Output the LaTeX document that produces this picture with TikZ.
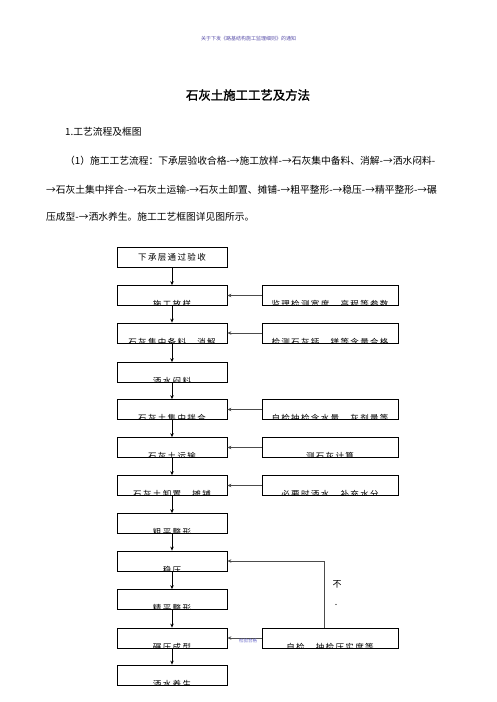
\documentclass[tikz,border=0pt]{standalone}
\usepackage{fontspec}
\setmainfont{Noto Sans CJK SC}
\newfontfamily\titlefont[FakeBold=1.5]{Noto Sans CJK SC}
\newfontfamily\boxfont[LetterSpace=16]{Noto Sans CJK SC}
\usetikzlibrary{arrows.meta}
\definecolor{hdr}{RGB}{90,80,170}
\definecolor{lbl}{RGB}{100,100,200}
\begin{document}
\begin{tikzpicture}[x=1pt,y=-1pt,
 lbox/.style={draw, line width=0.8pt, minimum width=110pt, minimum height=20pt, inner sep=0pt},
 rbox/.style={draw, line width=0.8pt, minimum width=136pt, minimum height=20pt, inner sep=0pt},
 lowtext/.style={path picture={\node[inner sep=0pt, font=\boxfont\fontsize{8.5}{9}\selectfont] at ([yshift=0.8pt]path picture bounding box.south) {#1};}},
 flow/.style={-{Stealth[length=4pt,width=3.5pt]}, line width=0.8pt},
 feed/.style={-{Stealth[length=4pt,width=3.5pt]}, line width=1pt, draw=black!70},
 para/.style={anchor=west, inner sep=0pt, font=\fontsize{9.75}{12}\selectfont}
]
\useasboundingbox (0,0) rectangle (496,702);
\fill[white] (0,0) rectangle (496,702);

\node[font=\fontsize{5}{6}\selectfont, text=hdr] (hd) at (248.5,39) {关于下发《路基结构施工监理细则》的通知};
\node[font=\titlefont\fontsize{12.4}{14}\selectfont] (title) at (248,95) {石灰土施工工艺及方法};
\node[para] (sec) at (65,132) {1.工艺流程及框图};
\node[para] (l1) at (65,161) {（1）施工工艺流程：下承层验收合格-→施工放样-→石灰集中备料、消解-→洒水闷料-};
\node[para] (l2) at (46,190) {→石灰土集中拌合-→石灰土运输-→石灰土卸置、摊铺-→粗平整形-→稳压-→精平整形-→碾};
\node[para] (l3) at (46,217) {压成型-→洒水养生。施工工艺框图详见图所示。};

% left column
\node[lbox, font=\boxfont\fontsize{8.5}{9}\selectfont] (b1) at (172,257.5) {下承层通过验收};
\node[lbox, lowtext={施工放样}] (b2) at (172,295.5) {};
\node[lbox, lowtext={石灰集中备料、消解}] (b3) at (172,333) {};
\node[lbox, lowtext={洒水闷料}] (b4) at (172,372.5) {};
\node[lbox, lowtext={石灰土集中拌合}] (b5) at (172,409.5) {};
\node[lbox, lowtext={石灰土运输}] (b6) at (172,447.5) {};
\node[lbox, lowtext={石灰土卸置、摊铺}] (b7) at (172,485.5) {};
\node[lbox, lowtext={粗平整形}] (b8) at (172,523.5) {};
\node[lbox, lowtext={稳压}] (b9) at (172,561) {};
\node[lbox, lowtext={精平整形}] (b10) at (172,599.5) {};
\node[lbox, lowtext={碾压成型}] (b11) at (172,638) {};
\node[lbox, lowtext={洒水养生}] (b12) at (172,675) {};

% right column
\node[rbox, lowtext={监理检测宽度、高程等参数}] (r1) at (330,295.5) {};
\node[rbox, lowtext={检测石灰钙、镁等含量合格}] (r2) at (330,333) {};
\node[rbox, lowtext={自检抽检含水量、灰剂量等}] (r3) at (330,409.5) {};
\node[rbox, lowtext={测石灰计算}] (r4) at (330,447.5) {};
\node[rbox, lowtext={必要时洒水、补充水分}] (r5) at (330,485.5) {};
\node[rbox, lowtext={自检、抽检压实度等}] (r6) at (330,638) {};

% flow arrows
\foreach \a/\b in {b1/b2,b2/b3,b3/b4,b4/b5,b5/b6,b6/b7,b7/b8,b8/b9,b9/b10,b10/b11,b11/b12}
  \draw[flow] (\a) -- (\b);
\foreach \a/\b in {r1/b2,r2/b3,r3/b5,r4/b6,r5/b7,r6/b11}
  \draw[feed] (\a) -- (\b);

% feedback loop
\coordinate (fb) at (324,561);
\draw[feed] (r6.north -| fb) -- (fb) -- (b9.east);
\node[font=\fontsize{9}{10}\selectfont] (no1) at (337,584) {不};
\node[font=\fontsize{9}{10}\selectfont] (no2) at (336,605) {.};
\node[font=\fontsize{4.5}{5}\selectfont, text=lbl] (ok) at (248,641) {检验合格};
\end{tikzpicture}
\end{document}
